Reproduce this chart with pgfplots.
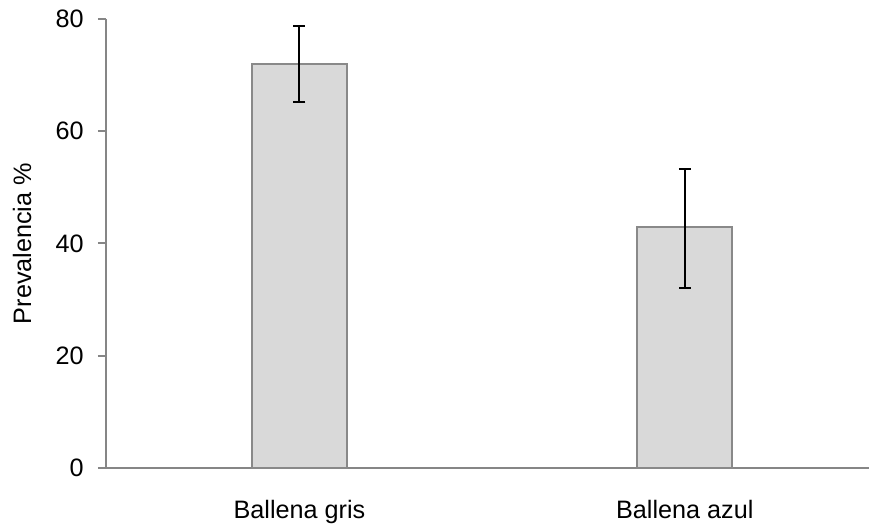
\documentclass[border=0pt]{standalone}
\usepackage{pgfplots}
\pgfplotsset{compat=1.18}
\usepackage{fontspec}
\setmainfont{Liberation Sans}
\definecolor{barfill}{HTML}{D9D9D9}
\definecolor{baredge}{HTML}{898989}
\definecolor{axgray}{HTML}{868686}
\begin{document}
\begin{tikzpicture}
\begin{axis}[
  name=ax,
  scale only axis,
  width=381.5pt, height=224.5pt,
  xmin=-0.502, xmax=1.478,
  ymin=0, ymax=80,
  axis x line=bottom, axis y line=left,
  axis line style={-, draw=axgray, line width=1pt},
  tick align=outside,
  major tick length=4pt,
  ytick={0,20,40,60,80},
  ytick style={draw=axgray, line width=1pt},
  xtick={0,1},
  xticklabels={Ballena gris, Ballena azul},
  x tick style={draw=none},
  font=\fontsize{12.6}{15}\selectfont,
  /pgf/number format/assume math mode=true,
  yticklabel style={font=\fontsize{12.6}{15}\selectfont, inner sep=0pt, anchor=east, xshift=-7pt},
  xticklabel style={font=\fontsize{12.6}{15}\selectfont, inner sep=0pt, anchor=north, yshift=-12pt},
  every axis y label/.style={at={(axis description cs:0,0.5)}, xshift=-42pt, rotate=90, anchor=center, inner sep=0pt, font=\fontsize{12.6}{15}\selectfont},
  ylabel={Prevalencia \%},
  clip=false,
]
\addplot[ybar, bar width=47.5pt, fill=barfill, draw=baredge, line width=1pt,
  error bars/.cd, y dir=both, y explicit,
  error bar style={black, line width=1pt},
  error mark options={rotate=90, mark size=3pt, line width=1pt, black}]
  coordinates {
    (0,72) += (0,6.8) -= (0,6.8)
    (1,43) += (0,10.3) -= (0,11.0)
  };
\end{axis}
\pgfresetboundingbox
\path[use as bounding box] ([xshift=-53pt,yshift=-28pt]ax.south west) rectangle ([yshift=9.5pt]ax.north east);
\end{tikzpicture}
\end{document}
